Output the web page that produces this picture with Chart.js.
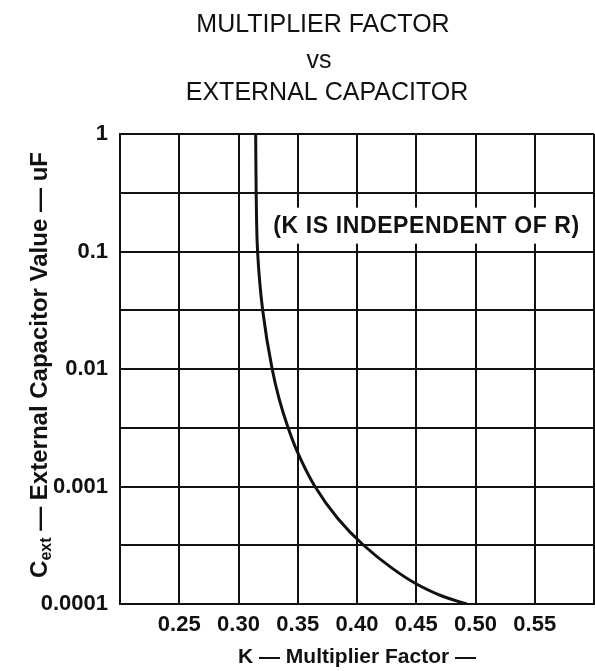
<!DOCTYPE html>
<html>
<head>
<meta charset="utf-8">
<script src="https://cdn.jsdelivr.net/npm/chart.js@4.4.1/dist/chart.umd.min.js"></script>
<style>
  html, body { margin: 0; padding: 0; background: #fff; }
  canvas { display: block; }
</style>
</head>
<body>
<canvas id="chart" width="595" height="671"></canvas>
<script>
// curve: K (multiplier factor) against Cext (uF)
const kValues = [0.3145, 0.3149, 0.3161, 0.3204, 0.3284, 0.3343, 0.3415, 0.3495, 0.3645, 0.3838, 0.4049, 0.4301, 0.4502, 0.4717, 0.4926];
const capValues = [1, 0.323, 0.1, 0.0316, 0.01, 0.00557, 0.00324, 0.00199, 0.001, 0.000535, 0.000321, 0.0002, 0.000148, 0.000117, 0.0001];

const xTicks = [0.20, 0.25, 0.30, 0.35, 0.40, 0.45, 0.50, 0.55, 0.60];
const xTickLabels = ["", "0.25", "0.30", "0.35", "0.40", "0.45", "0.50", "0.55", ""];
const yTicks = [0.0001, 0.0003162, 0.001, 0.003162, 0.01, 0.03162, 0.1, 0.3162, 1];
const yTickLabels = ["0.0001", "", "0.001", "", "0.01", "", "0.1", "", "1"];

const titleLines = ["MULTIPLIER FACTOR", "vs", "EXTERNAL CAPACITOR"];
const noteText = "(K IS INDEPENDENT OF R)";

const FONT = '"Liberation Sans", Arial, Helvetica, sans-serif';
const INK = "#111";

// title, white page and the rotated y label (with subscript)
const headerPlugin = {
  id: "header",
  beforeDraw(chart) {
    const ctx = chart.ctx;
    ctx.save();
    ctx.fillStyle = "#fff";
    ctx.fillRect(0, 0, chart.width, chart.height);

    ctx.fillStyle = INK;
    ctx.textAlign = "center";
    ctx.textBaseline = "alphabetic";
    ctx.font = "25px " + FONT;
    ctx.fillText(titleLines[0], 323, 32);
    ctx.fillText(titleLines[1], 319, 68);
    ctx.fillText(titleLines[2], 327, 100);

    // y axis label
    const big = "bold 24px " + FONT;
    const small = "bold 16px " + FONT;
    const rest = " \u2014 External Capacitor Value \u2014 uF";
    ctx.font = big;
    const wC = ctx.measureText("C").width;
    const wRest = ctx.measureText(rest).width;
    ctx.font = small;
    const wExt = ctx.measureText("ext").width;
    const total = wC + wExt + wRest;
    ctx.translate(47, 365);
    ctx.rotate(-Math.PI / 2);
    ctx.textAlign = "left";
    let x = -total / 2;
    ctx.font = big;
    ctx.fillText("C", x, 0);
    x += wC;
    ctx.font = small;
    ctx.fillText("ext", x, 4);
    x += wExt;
    ctx.font = big;
    ctx.fillText(rest, x, 0);
    ctx.restore();
  },
};

// boxed note inside the grid
const noteK = 0.4587;
const noteC = 0.166;
const notePlugin = {
  id: "note",
  afterDatasetsDraw(chart) {
    const ctx = chart.ctx;
    const cx = chart.scales.x.getPixelForValue(noteK);
    const cy = chart.scales.y.getPixelForValue(noteC);
    ctx.save();
    ctx.font = "bold 23px " + FONT;
    ctx.letterSpacing = "0.6px";
    const w = ctx.measureText(noteText).width;
    ctx.fillStyle = "#fff";
    ctx.fillRect(cx - w / 2 - 6, cy - 18, w + 12, 36);
    ctx.fillStyle = INK;
    ctx.textAlign = "center";
    ctx.textBaseline = "middle";
    ctx.fillText(noteText, cx, cy + 1);
    ctx.restore();
  },
};

const points = kValues.map((k, i) => ({ x: k, y: capValues[i] }));

const ctx = document.getElementById("chart").getContext("2d");
new Chart(ctx, {
  type: "line",
  data: {
    datasets: [
      {
        data: points,
        borderColor: INK,
        borderWidth: 3,
        pointRadius: 0,
        cubicInterpolationMode: "monotone",
        fill: false,
      },
    ],
  },
  options: {
    indexAxis: "y", // curve is steep at the top, so interpolate along y
    responsive: false,
    animation: false,
    layout: { padding: { top: 134, right: 1, bottom: 0, left: 0 } },
    plugins: {
      legend: { display: false },
      tooltip: { enabled: false },
    },
    scales: {
      x: {
        type: "linear",
        position: "bottom",
        min: 0.2,
        max: 0.6,
        afterBuildTicks(scale) {
          scale.ticks = xTicks.map((v) => ({ value: v }));
        },
        afterFit(scale) {
          scale.height = 67;
          scale.paddingLeft = 0;
          scale.paddingRight = 0;
        },
        grid: { color: INK, lineWidth: 2, drawTicks: false },
        border: { color: INK, width: 2 },
        ticks: {
          padding: 8,
          color: INK,
          autoSkip: false,
          maxRotation: 0,
          font: { family: FONT, size: 22, weight: "bold" },
          callback: (v, i) => xTickLabels[i],
        },
        title: {
          display: true,
          text: "K \u2014 Multiplier Factor \u2014",
          color: INK,
          font: { family: FONT, size: 21, weight: "bold" },
          padding: { top: 0, bottom: 1 },
        },
      },
      y: {
        type: "logarithmic",
        position: "left",
        min: 0.0001,
        max: 1,
        afterBuildTicks(scale) {
          scale.ticks = yTicks.map((v) => ({ value: v }));
        },
        afterFit(scale) {
          scale.width = 120;
        },
        grid: { color: INK, lineWidth: 2, drawTicks: false },
        border: { color: INK, width: 2 },
        ticks: {
          padding: 12,
          color: INK,
          autoSkip: false,
          font: { family: FONT, size: 22, weight: "bold" },
          callback: (v, i) => yTickLabels[i],
        },
      },
    },
  },
  plugins: [headerPlugin, notePlugin],
});
</script>
</body>
</html>
